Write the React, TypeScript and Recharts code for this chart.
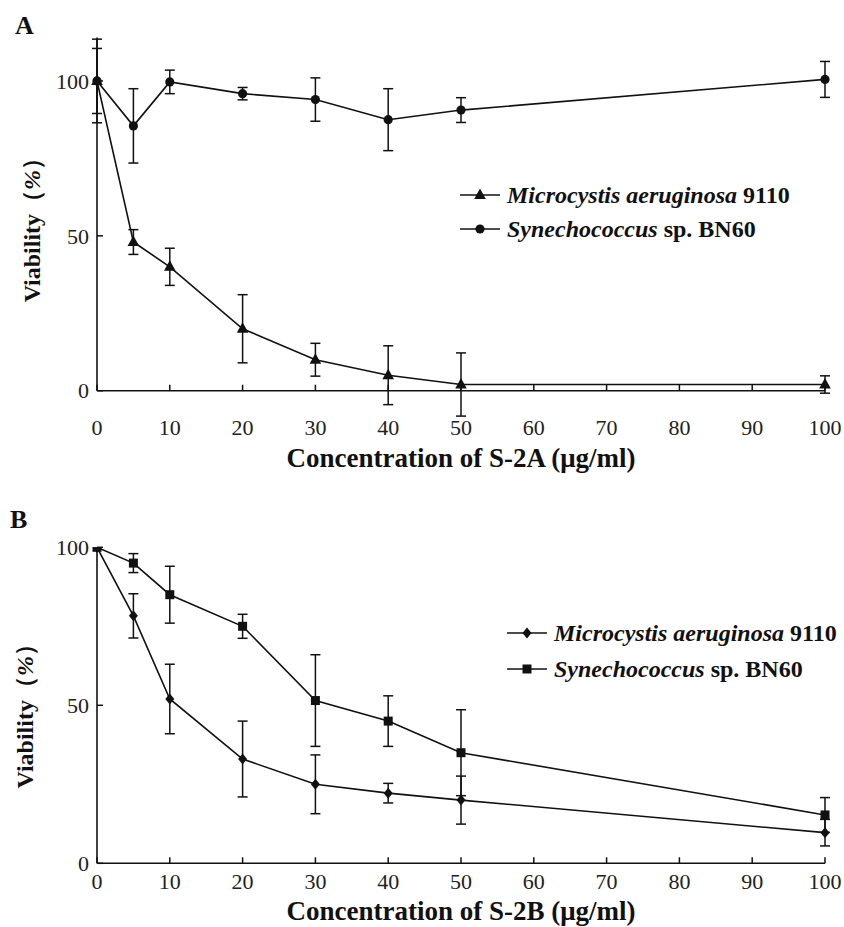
import React from "react";
import { ComposedChart, Line, XAxis, YAxis, ErrorBar, Legend } from "recharts";

// concentrations (µg/ml) shared by both panels
const concentrations = [0, 5, 10, 20, 30, 40, 50, 100];

// Panel A: S-2A
const microcystisA = [100, 48, 40, 20, 10, 5, 2, 2];
const microcystisAErr = [10.5, 4, 6, 11, 5.3, 9.5, 10.2, 2.8];
const synechococcusA = [100, 85.5, 99.7, 95.9, 94, 87.5, 90.6, 100.5];
const synechococcusAErr = [13.5, 12, 3.8, 2, 7, 10, 4, 5.8];

// Panel B: S-2B
const microcystisB = [100, 78.3, 52, 33, 25, 22.2, 20, 9.7];
const microcystisBErr = [0, 7, 11, 12, 9.3, 3.1, 7.6, 4.2];
const synechococcusB = [100, 95, 85, 75, 51.5, 45, 35, 15.3];
const synechococcusBErr = [0, 3, 9, 3.8, 14.5, 8, 13.6, 5.5];

const xTicks = [0, 10, 20, 30, 40, 50, 60, 70, 80, 90, 100];
const yTicks = [0, 50, 100];

const INK = "#111";
const SERIF = "'Liberation Serif', 'Times New Roman', serif";

const buildRows = (micro: number[], microErr: number[], syn: number[], synErr: number[]) =>
  concentrations.map((c, i) => ({
    conc: c,
    micro: micro[i],
    microErr: microErr[i],
    syn: syn[i],
    synErr: synErr[i],
  }));

const rowsA = buildRows(microcystisA, microcystisAErr, synechococcusA, synechococcusAErr);
const rowsB = buildRows(microcystisB, microcystisBErr, synechococcusB, synechococcusBErr);

type Shape = "triangle" | "circle" | "square" | "diamond";

const Marker = ({ shape, cx, cy }: { shape: Shape; cx: number; cy: number }) => {
  if (shape === "triangle")
    return <path d={`M${cx},${cy - 6.5} L${cx + 5.8},${cy + 4} L${cx - 5.8},${cy + 4} Z`} fill={INK} />;
  if (shape === "circle") return <circle cx={cx} cy={cy} r={4.6} fill={INK} />;
  if (shape === "square") return <rect x={cx - 4.5} y={cy - 4.5} width={9} height={9} fill={INK} />;
  return <path d={`M${cx},${cy - 5.5} L${cx + 4.5},${cy} L${cx},${cy + 5.5} L${cx - 4.5},${cy} Z`} fill={INK} />;
};

const dotFor = (shape: Shape) => (p: any) => (
  <Marker key={`${shape}-${p.index}`} shape={shape} cx={p.cx} cy={p.cy} />
);

const XTick = (props: any) => {
  const { x, y, payload, labelOffset } = props;
  return (
    <g>
      <line x1={x} y1={y} x2={x} y2={y - 6} stroke={INK} strokeWidth={1.5} />
      <text x={x} y={y + labelOffset} dy="0.35em" textAnchor="middle" fontFamily={SERIF} fontSize={22} fill="#222">
        {payload.value}
      </text>
    </g>
  );
};

const YTick = (props: any) => {
  const { x, y, payload } = props;
  return (
    <g>
      <line x1={x} y1={y} x2={x + 6} y2={y} stroke={INK} strokeWidth={1.5} />
      <text x={x - 8} y={y} dy="0.35em" textAnchor="end" fontFamily={SERIF} fontSize={22} fill="#222">
        {payload.value}
      </text>
    </g>
  );
};

const legendItems = [
  { species: "Microcystis aeruginosa", strain: "9110", key: "micro" },
  { species: "Synechococcus", strain: "sp. BN60", key: "syn" },
];

const LegendBox = ({ shapes, rowHeight }: { shapes: Shape[]; rowHeight: number }) => (
  <div style={{ fontFamily: SERIF, fontSize: 24, fontWeight: "bold", color: INK }}>
    {legendItems.map((it, i) => (
      <div key={it.key} style={{ display: "flex", alignItems: "center", height: rowHeight, whiteSpace: "nowrap" }}>
        <svg width={40} height={14} style={{ marginRight: 7 }}>
          <line x1={0} y1={7} x2={40} y2={7} stroke={INK} strokeWidth={1.6} />
          <Marker shape={shapes[i]} cx={20} cy={7} />
        </svg>
        <span>
          <i>{it.species}</i> {it.strain}
        </span>
      </div>
    ))}
  </div>
);

const YTitle = (bx: number, shift: number) => (props: any) => {
  const vb = props.viewBox;
  const cy = vb.y + vb.height / 2 + shift;
  return (
    <text
      transform={`translate(${bx}, ${cy}) rotate(-90)`}
      textAnchor="middle"
      fontFamily={SERIF}
      fontSize={24}
      fontWeight="bold"
      fill={INK}
    >
      Viability（<tspan fontStyle="italic">%</tspan>）
    </text>
  );
};

interface PanelProps {
  rows: any[];
  height: number;
  top: number;
  yMax: number;
  xAxisHeight: number;
  tickOffset: number;
  titleOffset: number;
  title: string;
  shapes: Shape[];
  legendLeft: number;
  legendTop: number;
  legendRow: number;
  yTitleX: number;
  yTitleShift: number;
}

const Panel = (p: PanelProps) => (
  <ComposedChart
    width={844}
    height={p.height}
    data={p.rows}
    margin={{ top: p.top, right: 19, left: 0, bottom: 0 }}
  >
    <XAxis
      dataKey="conc"
      type="number"
      domain={[0, 100]}
      ticks={xTicks}
      height={p.xAxisHeight}
      tickSize={0}
      tickMargin={0}
      tickLine={false}
      axisLine={{ stroke: INK, strokeWidth: 1.6 }}
      tick={(t: any) => <XTick {...t} labelOffset={p.tickOffset} />}
      label={{
        value: p.title,
        position: "insideBottom",
        offset: p.titleOffset,
        fontFamily: SERIF,
        fontSize: 27,
        fontWeight: "bold",
        fill: INK,
      }}
    />
    <YAxis
      type="number"
      domain={[0, p.yMax]}
      allowDataOverflow
      ticks={yTicks}
      width={97}
      tickSize={0}
      tickMargin={0}
      tickLine={false}
      axisLine={{ stroke: INK, strokeWidth: 1.6 }}
      tick={(t: any) => <YTick {...t} />}
      label={{ content: YTitle(p.yTitleX, p.yTitleShift) }}
    />
    <Legend
      layout="vertical"
      align="center"
      verticalAlign="middle"
      wrapperStyle={{ left: p.legendLeft, top: p.legendTop, width: "auto" }}
      content={() => <LegendBox shapes={p.shapes} rowHeight={p.legendRow} />}
    />
    <Line
      dataKey="micro"
      stroke={INK}
      strokeWidth={1.6}
      dot={dotFor(p.shapes[0])}
      activeDot={false}
      isAnimationActive={false}
    >
      <ErrorBar dataKey="microErr" width={5} stroke={INK} strokeWidth={1.5} direction="y" isAnimationActive={false} />
    </Line>
    <Line
      dataKey="syn"
      stroke={INK}
      strokeWidth={1.6}
      dot={dotFor(p.shapes[1])}
      activeDot={false}
      isAnimationActive={false}
    >
      <ErrorBar dataKey="synErr" width={5} stroke={INK} strokeWidth={1.5} direction="y" isAnimationActive={false} />
    </Line>
  </ComposedChart>
);

const letterStyle: React.CSSProperties = {
  position: "absolute",
  fontFamily: SERIF,
  fontSize: 26,
  fontWeight: "bold",
  lineHeight: 1,
  color: INK,
};

export default function App() {
  return (
    <div style={{ position: "absolute", left: 0, top: 0, width: 844, height: 927, background: "#fff", overflow: "hidden" }}>
      <div style={{ position: "absolute", left: 0, top: 0 }}>
        <Panel
          rows={rowsA}
          height={474}
          top={37.6}
          yMax={114}
          xAxisHeight={83.3}
          tickOffset={37}
          titleOffset={7}
          title="Concentration of S-2A (μg/ml)"
          shapes={["triangle", "circle"]}
          legendLeft={460}
          legendTop={178}
          legendRow={34}
          yTitleX={40}
          yTitleShift={10}
        />
      </div>
      <div style={{ position: "absolute", left: 0, top: 470 }}>
        <Panel
          rows={rowsB}
          height={457}
          top={77.3}
          yMax={100}
          xAxisHeight={63.7}
          tickOffset={18}
          titleOffset={7}
          title="Concentration of S-2B (μg/ml)"
          shapes={["diamond", "square"]}
          legendLeft={507}
          legendTop={145}
          legendRow={36}
          yTitleX={33}
          yTitleShift={5}
        />
      </div>
      <div style={{ ...letterStyle, left: 15, top: 13 }}>A</div>
      <div style={{ ...letterStyle, left: 10, top: 507 }}>B</div>
    </div>
  );
}
